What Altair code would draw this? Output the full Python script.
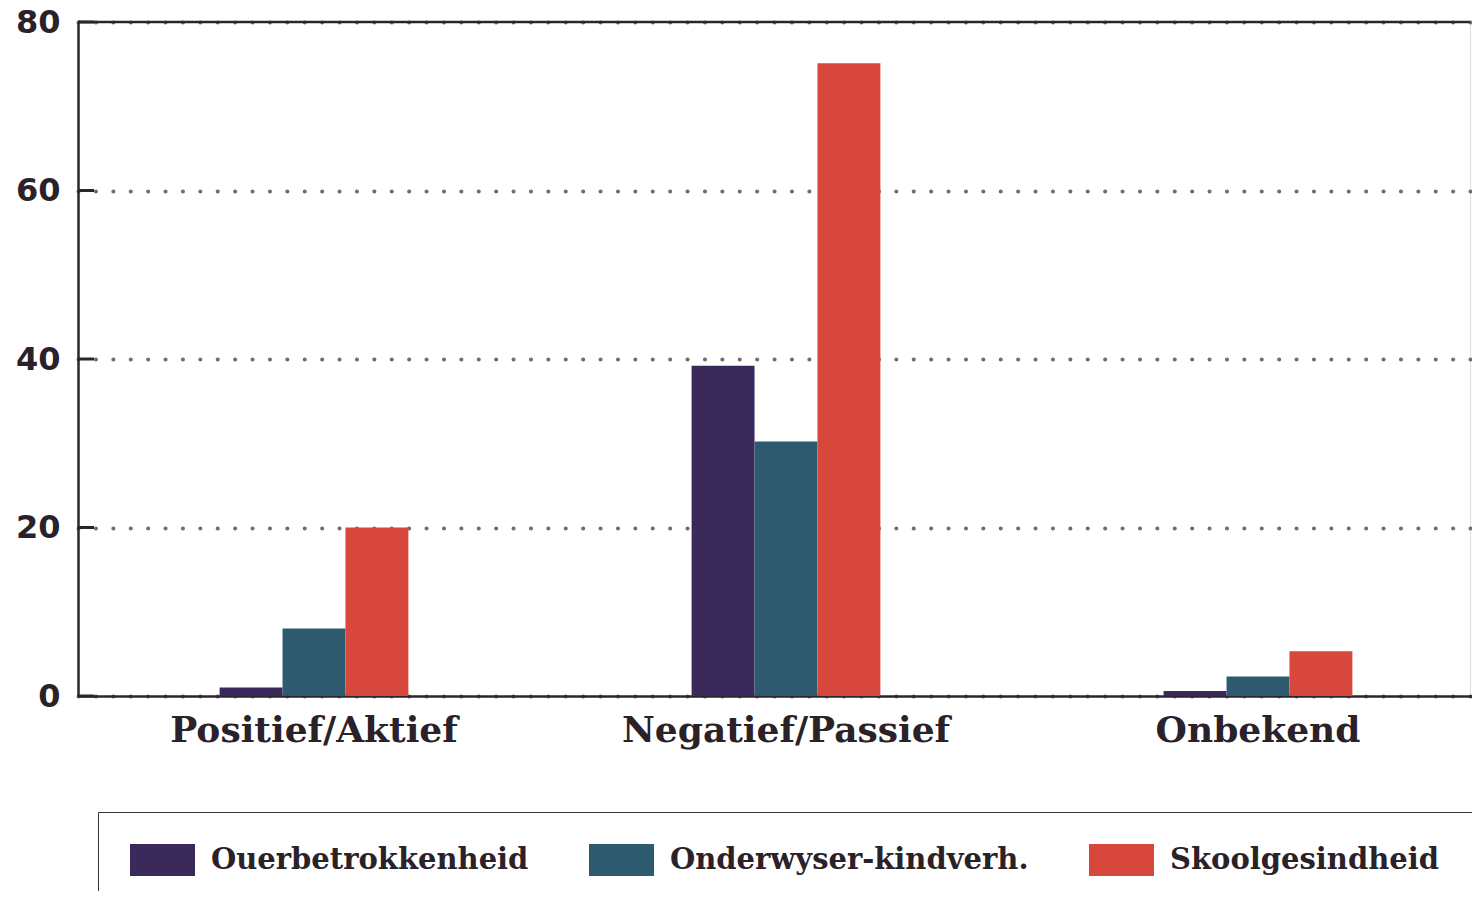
import altair as alt
import pandas as pd

categories = ["Positief/Aktief", "Negatief/Passief", "Onbekend"]
series = ["Ouerbetrokkenheid", "Onderwyser-kindverh.", "Skoolgesindheid"]
ouer = [1.0, 39.2, 0.6]
onderwyser = [8.0, 30.2, 2.3]
skool = [20.0, 75.1, 5.3]
y_ticks = [0, 20, 40, 60, 80]
colors = ["#3a2a5c", "#2e5a70", "#d8473b"]

rows = []
for i, c in enumerate(categories):
    for s, vals in zip(series, [ouer, onderwyser, skool]):
        rows.append({"cat": c, "series": s, "value": vals[i]})
df = pd.DataFrame(rows)
ticks_df = pd.DataFrame({"y": y_ticks})

AX = "#2b2430"
y_scale = alt.Scale(domain=[0, 80], nice=False)

bars = alt.Chart(df).mark_bar().encode(
    x=alt.X("cat:N", sort=categories,
            scale=alt.Scale(range=[0, 1416], paddingInner=0.6, paddingOuter=0.3),
            axis=alt.Axis(title=None, labelAngle=0, ticks=False, domain=True,
                          domainColor=AX, domainWidth=2.5,
                          labelFont="DejaVu Serif", labelFontWeight="bold",
                          labelFontSize=36, labelColor="#2a2228", labelPadding=17,
                          labelLimit=1000, grid=False)),
    xOffset=alt.XOffset("series:N", sort=series),
    y=alt.Y("value:Q", scale=y_scale,
            axis=alt.Axis(title=None, values=y_ticks, ticks=False, domain=True,
                          domainColor=AX, domainWidth=2.5,
                          labelFont="DejaVu Sans", labelFontWeight="bold",
                          labelFontSize=32, labelColor="#2a2228", labelPadding=18,
                          grid=True, gridColor="#7a6a62", gridDash=[0.1, 17.3],
                          gridCap="round", gridWidth=4)),
    color=alt.Color("series:N", sort=series,
                    scale=alt.Scale(domain=series, range=colors),
                    legend=alt.Legend(title=None, orient="none", legendX=20, legendY=790,
                                      direction="horizontal",
                                      symbolType="M-1,-1L3.0625,-1L3.0625,1L-1,1Z",
                                      symbolSize=1024, symbolStrokeWidth=0,
                                      symbolOpacity=1,
                                      labelFont="DejaVu Serif", labelFontWeight="bold",
                                      labelFontSize=29, labelColor="#2a2228",
                                      labelOffset=49, columnPadding=60,
                                      padding=32, strokeColor="#3a3036",
                                      labelLimit=600)),
)

top_rule = alt.Chart(pd.DataFrame({"y": [80]})).mark_rule(color=AX, strokeWidth=2.5).encode(
    y=alt.Y("y:Q", scale=y_scale)
)

tick_marks = alt.Chart(ticks_df).mark_rule(color=AX, strokeWidth=3).encode(
    y=alt.Y("y:Q", scale=y_scale),
    x=alt.value(0), x2=alt.value(16)
)

chart = alt.layer(bars, top_rule, tick_marks).properties(
    width=1392, height=674,
    autosize=alt.AutoSizeParams(type="none"),
    padding={"left": 70, "top": 14, "right": 2, "bottom": 195},
).configure_view(stroke=None).configure(background="white")

chart.save("out.html", embed_options={"renderer": "svg", "actions": False})
